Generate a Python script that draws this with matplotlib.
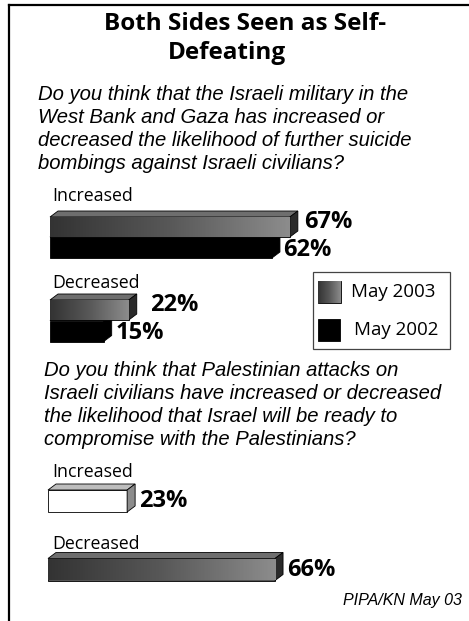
import numpy as np
import matplotlib.pyplot as plt
from matplotlib.patches import Polygon, Rectangle
from matplotlib.colors import LinearSegmentedColormap

# survey results, percent
q1_categories = ['Increased', 'Decreased']
q1_may2003 = [67, 22]
q1_may2002 = [62, 15]
q2_categories = ['Increased', 'Decreased']
q2_may2003 = [23, 66]
series_labels = ['May 2003', 'May 2002']

title_lines = ['Both Sides Seen as Self-', 'Defeating']
q1_text = ['Do you think that the Israeli military in the',
           'West Bank and Gaza has increased or',
           'decreased the likelihood of further suicide',
           'bombings against Israeli civilians?']
q2_text = ['Do you think that Palestinian attacks on',
           'Israeli civilians have increased or decreased',
           'the likelihood that Israel will be ready to',
           'compromise with the Palestinians?']
source = 'PIPA/KN May 03'

W, H = 469, 621
DEPTH_X, DEPTH_Y = 8, 6   # 3d face offset in pixels

HEAD = 'Open Sans'
BODY = 'Liberation Sans'

fig = plt.figure(figsize=(W / 100, H / 100), dpi=100)
frame = fig.add_axes([0, 0, 1, 1])
frame.axis('off')

grey_cmap = LinearSegmentedColormap.from_list('g', ['#333333', '#585858', '#8c8c8c'])


def bar_axes(x0, scale):
    # full-figure axes where 0% sits at pixel x0 and one percent spans `scale` px
    a = fig.add_axes([0, 0, 1, 1])
    a.patch.set_alpha(0)
    a.axis('off')
    a.x0, a.s = x0, scale
    return a


def fix_limits(a):
    a.set_xlim(-a.x0 / a.s, (W - a.x0) / a.s)
    a.set_ylim(H, 0)


def gradient(axis, x0, x1, y0, y1, clip):
    g = np.linspace(0, 1, 200)[None, :] * np.ones((20, 1))
    im = axis.imshow(g, cmap=grey_cmap, extent=[x0, x1, y1, y0], aspect='auto',
                     zorder=clip.get_zorder() + 0.1, interpolation='bilinear')
    im.set_clip_path(clip)


def bar3d(a, y, v, h, style, z):
    dx = DEPTH_X / a.s
    top, bot = y - h / 2, y + h / 2
    if style == 'grad':
        face, topc, sidec = '#555555', '#6e6e6e', '#2a2a2a'
    elif style == 'black':
        face, topc, sidec = 'black', '#1a1a1a', '#000000'
    else:
        face, topc, sidec = 'white', '#bdbdbd', '#8c8c8c'
    b = a.barh(y, v, height=h, left=0, color=face, edgecolor='black',
               linewidth=0.6, zorder=z)[0]
    if style == 'grad':
        gradient(a, 0, v, top, bot, b)
    a.add_patch(Polygon([(0, top), (v, top), (v + dx, top - DEPTH_Y), (dx, top - DEPTH_Y)],
                        closed=True, facecolor=topc, edgecolor='black',
                        linewidth=0.6, zorder=z))
    a.add_patch(Polygon([(v, top), (v + dx, top - DEPTH_Y), (v + dx, bot - DEPTH_Y), (v, bot)],
                        closed=True, facecolor=sidec, edgecolor='black',
                        linewidth=0.6, zorder=z))


def pct(a, v, y, pad):
    a.text(v + (DEPTH_X + pad) / a.s, y, f'{v}%', fontsize=17, fontweight='bold',
           family=HEAD, va='center', ha='left', zorder=10)


# border
frame.plot([8.5, 8.5], [4.5, H], color='black', lw=1.6, solid_capstyle='projecting')
frame.plot([8.5, W], [4.5, 4.5], color='black', lw=1.6, solid_capstyle='projecting')

# title
frame.text(245, 24, title_lines[0], fontsize=17.5, fontweight='bold', family=HEAD,
           ha='center', va='center')
frame.text(227, 53, title_lines[1], fontsize=17.5, fontweight='bold', family=HEAD,
           ha='center', va='center')

for i, line in enumerate(q1_text):
    frame.text(38, 94 + i * 23.2, line, fontsize=14.6, style='italic', family=BODY,
               ha='left', va='center')
for i, line in enumerate(q2_text):
    frame.text(44, 370 + i * 23.2, line, fontsize=14.6, style='italic', family=BODY,
               ha='left', va='center')

# question 1 bars
ax1 = bar_axes(50, 3.58)
q1_centers = [(227, 247.5), (310, 331)]
q1_label_y = [196, 283]
q1_pads = [(6, 3), (13, 4)]
for k in range(len(q1_categories)):
    y03, y02 = q1_centers[k]
    bar3d(ax1, y02, q1_may2002[k], 21, 'black', 2)
    bar3d(ax1, y03, q1_may2003[k], 20, 'grad', 3)
    frame.text(52, q1_label_y[k], q1_categories[k], fontsize=12.8, family=HEAD,
               ha='left', va='center')
    pct(ax1, q1_may2003[k], y03 - 5, q1_pads[k][0])
    pct(ax1, q1_may2002[k], y02 + 2, q1_pads[k][1])
fix_limits(ax1)

# question 2 bars
ax2 = bar_axes(48, 3.44)
q2_centers = [501, 569.5]
q2_label_y = [472, 544]
q2_styles = ['white', 'grad']
for k in range(len(q2_categories)):
    bar3d(ax2, q2_centers[k], q2_may2003[k], 22, q2_styles[k], 3)
    frame.text(52, q2_label_y[k], q2_categories[k], fontsize=12.8, family=HEAD,
               ha='left', va='center')
    pct(ax2, q2_may2003[k], q2_centers[k], 4)
fix_limits(ax2)

# legend
frame.add_patch(Rectangle((313, 272), 137, 77, facecolor='white', edgecolor='#444444',
                          linewidth=0.9, zorder=5))
sw = Rectangle((318, 281), 23, 22, facecolor='#555555', edgecolor='black',
               linewidth=0.6, zorder=6)
frame.add_patch(sw)
gradient(frame, 318, 341, 281, 303, sw)
frame.add_patch(Rectangle((318, 319), 22, 22, facecolor='black', edgecolor='black',
                          linewidth=0.6, zorder=6))
frame.text(351, 292, series_labels[0], fontsize=13.5, family=HEAD, va='center', zorder=7)
frame.text(354, 330, series_labels[1], fontsize=13.5, family=HEAD, va='center', zorder=7)

frame.text(462, 601, source, fontsize=11.5, style='italic', family=BODY,
           ha='right', va='center')
frame.set_xlim(0, W)
frame.set_ylim(H, 0)

fig.savefig('out.png', dpi=100)
